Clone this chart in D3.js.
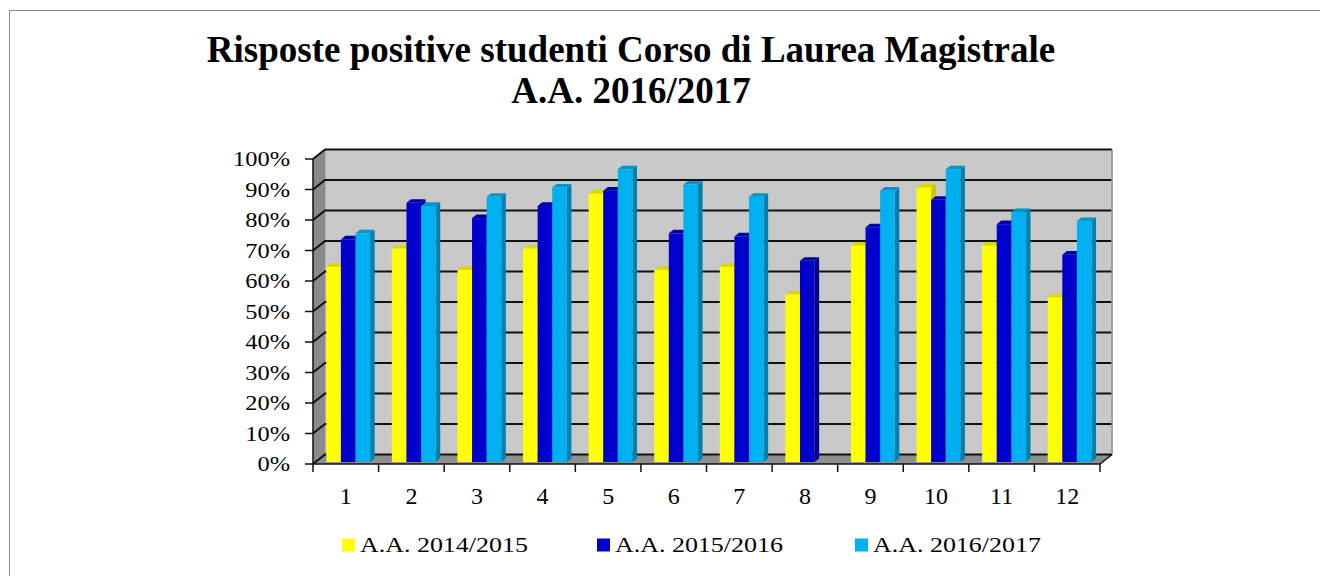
<!DOCTYPE html>
<html>
<head>
<meta charset="utf-8">
<script src="https://cdn.jsdelivr.net/npm/d3@7"></script>
<style>
  html, body { margin: 0; padding: 0; background: #fff; }
  svg { display: block; }
</style>
</head>
<body>
<svg id="chart" width="1320" height="576"></svg>
<script>
// ---- data ----
const categories = ["1","2","3","4","5","6","7","8","9","10","11","12"];
const seriesNames = ["A.A. 2014/2015", "A.A. 2015/2016", "A.A. 2016/2017"];
const values2014 = [0.64, 0.70, 0.63, 0.70, 0.88, 0.63, 0.64, 0.55, 0.71, 0.90, 0.71, 0.54];
const values2015 = [0.73, 0.85, 0.80, 0.84, 0.89, 0.75, 0.74, 0.66, 0.77, 0.86, 0.78, 0.68];
const values2016 = [0.75, 0.84, 0.87, 0.90, 0.96, 0.91, 0.87, null, 0.89, 0.96, 0.82, 0.79];
const yTicks = [0, 0.1, 0.2, 0.3, 0.4, 0.5, 0.6, 0.7, 0.8, 0.9, 1.0];
const titleLines = ["Risposte positive studenti Corso di Laurea Magistrale", "A.A. 2016/2017"];

const seriesValues = [values2014, values2015, values2016];
const colors = [
  { front: "#ffff00", side: "#c9c900", top: "#d8d800" },
  { front: "#0000cc", side: "#00008a", top: "#0000a8" },
  { front: "#00b0f0", side: "#0080ad", top: "#0094c8" }
];

const svg = d3.select("#chart");
const serif = "'Liberation Serif', 'Times New Roman', serif";

// border
svg.append("rect").attr("x", 9.5).attr("y", 10.5).attr("width", 1330).attr("height", 600)
  .attr("fill", "none").attr("stroke", "#888").attr("stroke-width", 1);

// title
const title = svg.append("text").attr("text-anchor", "middle")
  .attr("font-family", serif).attr("font-weight", "bold").attr("font-size", 37).attr("fill", "#000");
title.selectAll("tspan").data(titleLines).join("tspan")
  .attr("x", 631).attr("y", (d, i) => 62 + i * 41).text(d => d);

// geometry
const left = 313, right = 1100, y0 = 464, y100 = 159;
const DX = 12, DY = -9.5; // full depth offset
const x0 = d3.scaleBand().domain(categories).range([left, right]).padding(0);
const y = d3.scaleLinear().domain([0, 1]).range([y0, y100]);
const bw = x0.bandwidth();
const barW = 14.6;
const gap = bw - 3 * barW;
const x1 = d3.scaleBand().domain(seriesNames).range([gap / 2, bw - gap / 2]).padding(0);

const pts = a => a.map(p => p.join(",")).join(" ");

// back wall
svg.append("polygon")
  .attr("points", pts([[left + DX, y(1) + DY], [right + DX, y(1) + DY], [right + DX, y(0) + DY], [left + DX, y(0) + DY]]))
  .attr("fill", "#c8c8c8").attr("stroke", "#999").attr("stroke-width", 1);
// side wall
svg.append("polygon")
  .attr("points", pts([[left, y(1)], [left + DX, y(1) + DY], [left + DX, y(0) + DY], [left, y(0)]]))
  .attr("fill", "#8a8a8a");
// floor
svg.append("polygon")
  .attr("points", pts([[left, y(0)], [left + DX, y(0) + DY], [right + DX, y(0) + DY], [right, y(0)]]))
  .attr("fill", "#8f8f8f");

// gridlines (back wall + side wall)
const grid = svg.append("g").attr("stroke", "#111").attr("stroke-width", 2).attr("fill", "none");
yTicks.forEach(t => {
  grid.append("polyline")
    .attr("points", pts([[left, y(t)], [left + DX, y(t) + DY], [right + DX, y(t) + DY]]));
});
// right back edge
svg.append("line").attr("x1", right + DX).attr("x2", right + DX).attr("y1", y(1) + DY).attr("y2", y(0) + DY)
  .attr("stroke", "#999").attr("stroke-width", 1.5);
// floor right edge
svg.append("line").attr("x1", right).attr("y1", y(0)).attr("x2", right + DX).attr("y2", y(0) + DY)
  .attr("stroke", "#111").attr("stroke-width", 1.5);

// bars
const fFront = 0.2, fDepth = 0.38;
const bdx = DX * fDepth, bdy = DY * fDepth;
const bars = svg.append("g");
categories.forEach((c, ci) => {
  seriesNames.forEach((s, si) => {
    const v = seriesValues[si][ci];
    if (v == null) return;
    const xl = x0(c) + x1(s) + DX * fFront;
    const xr = xl + barW;
    const yb = y(0) + DY * fFront;
    const yt = y(v) + DY * fFront;
    const col = colors[si];
    bars.append("polygon").attr("points", pts([[xr, yt], [xr + bdx, yt + bdy], [xr + bdx, yb + bdy], [xr, yb]]))
      .attr("fill", col.side);
    bars.append("polygon").attr("points", pts([[xl, yt], [xl + bdx, yt + bdy], [xr + bdx, yt + bdy], [xr, yt]]))
      .attr("fill", col.top);
    bars.append("rect").attr("x", xl).attr("y", yt).attr("width", barW).attr("height", yb - yt)
      .attr("fill", col.front);
  });
});

// front axes
const axis = svg.append("g").attr("stroke", "#111").attr("stroke-width", 1.5);
axis.append("line").attr("x1", left).attr("x2", left).attr("y1", y(1)).attr("y2", y(0));
axis.append("line").attr("x1", left).attr("x2", right).attr("y1", y(0)).attr("y2", y(0));
yTicks.forEach(t => {
  axis.append("line").attr("x1", left - 8).attr("x2", left).attr("y1", y(t)).attr("y2", y(t));
});
const catEdges = categories.map(c => x0(c)).concat([right]);
catEdges.forEach(xv => {
  axis.append("line").attr("x1", xv).attr("x2", xv).attr("y1", y(0)).attr("y2", y(0) + 8);
});

// y labels
const fmt = d3.format(".0%");
yTicks.forEach(t => {
  svg.append("text")
    .attr("transform", `translate(290,${y(t) + 7}) scale(1.22,1)`)
    .attr("text-anchor", "end").attr("font-family", serif).attr("font-size", 20).attr("fill", "#000")
    .text(fmt(t));
});

// category labels
categories.forEach(c => {
  svg.append("text").attr("x", x0(c) + bw / 2).attr("y", 504)
    .attr("text-anchor", "middle").attr("font-family", serif).attr("font-size", 24).attr("fill", "#000")
    .text(c);
});

// legend
const legendX = [342, 597, 855];
seriesNames.forEach((s, i) => {
  svg.append("rect").attr("x", legendX[i]).attr("y", 538.5).attr("width", 13).attr("height", 13)
    .attr("fill", colors[i].front);
  svg.append("text")
    .attr("transform", `translate(${legendX[i] + 18},552) scale(1.18,1)`)
    .attr("font-family", serif).attr("font-size", 22).attr("fill", "#000")
    .text(s);
});
</script>
</body>
</html>
